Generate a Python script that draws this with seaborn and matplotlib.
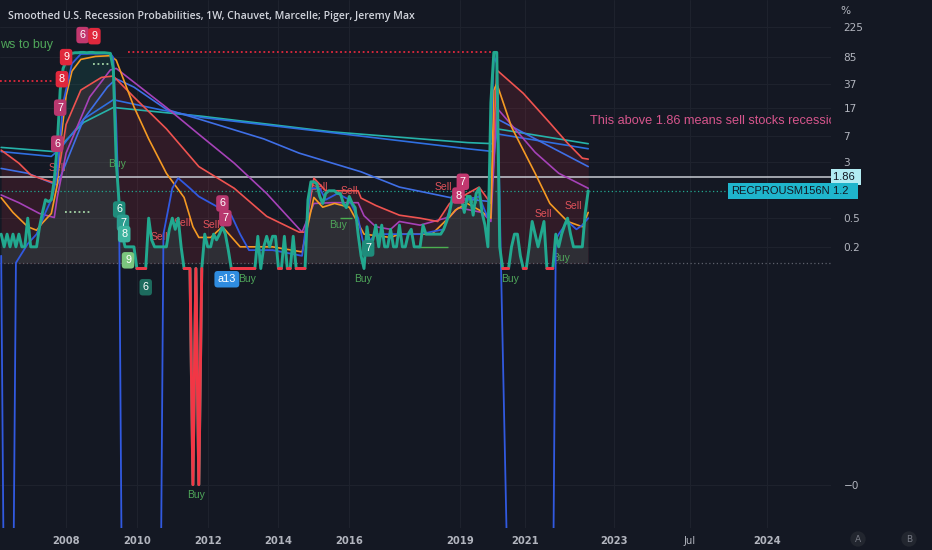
import numpy as np
import matplotlib
matplotlib.use("Agg")
import matplotlib.pyplot as plt
import matplotlib.transforms as mtransforms
import seaborn as sns

# x axis = bar index (monthly bars, 0 = Jan 2008), y = probability in % (log scale)
rec_start = -22
rec = [0.3, 0.2, 0.3, 0.2, 0.3, 0.2, 0.3, 0.2, 0.2, 0.5,
       0.2, 0.2, 0.2, 0.38, 0.6, 0.9, 0.85, 0.9, 1.7, 5,
       30, 60, 75, 92, 97, 99, 99, 100, 100, 99,
       100, 100, 99, 99, 99, 99, 98, 97, 60, 3,
       0.8, 0.3, 0.2, 0.2, 0.2, 0.2, 0.1, 0.1, 0.1, 0.1,
       0.5, 0.25, 0.2, 0.2, 0.2, 0.2, 0.2, 0.35, 0.5, 0.35,
       0.5, 0.2, 0.1, 0.1, 0.1, 0.0001, 0.1, 0.0001, 0.1, 0.3,
       0.2, 0.2, 0.3, 0.25, 0.3, 0.38, 0.3, 0.18, 0.1, 0.1,
       0.1, 0.1, 0.1, 0.1, 0.1, 0.1, 0.1, 0.28, 0.1, 0.2,
       0.28, 0.2, 0.28, 0.28, 0.1, 0.1, 0.28, 0.1, 0.1, 0.28,
       0.1, 0.1, 0.1, 0.1, 0.9, 1.6, 1.6, 1.5, 1.0, 0.8,
       1.1, 1.2, 1.2, 1.2, 1.1, 1.1, 0.8, 0.7, 1.0, 0.8,
       0.7, 0.3, 0.15, 0.1, 0.38, 0.2, 0.25, 0.4, 0.2, 0.4,
       0.2, 0.2, 0.35, 0.2, 0.2, 0.4, 0.2, 0.2, 0.3, 0.35,
       0.2, 0.2, 0.2, 0.4, 0.3, 0.3, 0.3, 0.3, 0.3, 0.3,
       0.35, 0.45, 0.6, 1.0, 0.85, 0.9, 0.95, 0.6, 1.0, 1.0,
       0.55, 1.1, 1.3, 0.6, 0.4, 0.2, 20, 100, 100, 0.2,
       0.1, 0.1, 0.1, 0.2, 0.3, 0.3, 0.15, 0.1, 0.1, 0.2,
       0.45, 0.3, 0.2, 0.3, 0.45, 0.1, 0.1, 0.1, 0.3, 0.2,
       0.3, 0.4, 0.5, 0.3, 0.2, 0.2, 0.2, 0.2, 0.6, 1.2]

orange_x = [-22, -18, -13, -10, -8, -5, -3, -2, 0, 2, 5, 10, 15, 17, 23, 28, 34, 40, 43, 45,
            49, 53, 59, 70, 80, 84, 87, 91, 96, 101, 110, 113, 124, 130, 132, 136, 140, 144, 145, 146,
            151, 159, 164, 170, 175, 177]
orange_y = [0.96, 0.6, 0.38, 0.34, 0.43, 0.58, 1.45, 5, 25, 55, 80, 88, 90, 78, 17.6, 6.3, 2.1, 0.97, 0.38, 0.27,
            0.27, 0.38, 0.2, 0.2, 0.17, 0.97, 0.71, 0.8, 0.71, 0.3, 0.27, 0.3, 0.3, 0.52, 0.65, 0.8, 0.65, 0.5, 30, 37,
            9.2, 2.1, 0.8, 0.45, 0.38, 0.6]

red_x = [-22, -16, -12, -9, -4, -2, 0, 5, 12, 16, 23, 34, 45, 57, 68, 79, 81, 84, 88, 99,
         100, 105, 113, 120, 126, 130, 140, 144, 146, 155, 164, 170, 175, 177]
red_y = [4.4, 2.9, 2.0, 1.8, 1.55, 3, 10, 30, 45, 47, 24, 8.7, 2.6, 1.3, 0.53, 0.32, 0.32, 1.8, 1.2, 1.2,
         0.95, 0.75, 0.55, 0.5, 0.45, 0.8, 1.35, 0.8, 57, 27, 10.5, 5.5, 3.4, 3.3]

purple_x = [-22, -16, -9, -4, -3, 0, 8, 15, 17, 34, 45, 57, 68, 80, 84, 90, 99, 101, 105, 110,
            113, 120, 130, 133, 141, 144, 146, 159, 167, 177]
purple_y = [1.05, 0.82, 0.58, 0.51, 0.97, 4, 24, 57, 60, 17.2, 7.3, 2.9, 1.1, 0.32, 0.8, 0.82, 0.82, 0.54, 0.38, 0.35,
            0.45, 0.4, 0.52, 0.7, 0.6, 0.45, 17, 4.1, 2.1, 1.3]

mblue_x = [-22, -13, -5, -3, 6, 14, 17, 23, 34, 45, 67, 79, 100, 113, 130, 144, 146, 177]
mblue_y = [2.45, 2.1, 1.55, 1.45, 11.9, 33, 43, 33, 16.2, 11.9, 6.3, 4.0, 2.2, 1.35, 0.97, 0.85, 12, 2.6]

blue2_x = [-22, -5, -2, 6, 16, 32, 46, 90, 136, 145, 146, 177]
blue2_y = [4.2, 3.6, 4.6, 11.9, 22, 16, 12.5, 7.7, 4.6, 4.2, 7.4, 4.6]

cyan_x = [-22, -4, -2, 6, 16, 46, 90, 136, 145, 146, 177]
cyan_y = [4.8, 4.2, 5.0, 10.7, 17.2, 13, 7.9, 5.6, 5.4, 8.7, 5.4]

fblue_x = [-22, -21, -18, -17, -13, -10, -7, -5, -3, -1, 2, 5, 15, 16, 17, 18, 19, 32, 33, 36,
           38, 42, 45, 51, 56, 59, 62, 70, 80, 83, 86, 88, 92, 96, 99, 101, 105, 110, 120, 128,
           131, 136, 140, 143, 145, 146, 150, 165, 166, 167, 170, 173, 175, 177]
fblue_y = [0.15, 1e-6, 1e-6, 0.12, 0.22, 0.3, 0.6, 0.9, 2, 20, 70, 95, 97, 85, 10, 0.5, 1e-6, 1e-6, 0.3, 1.3,
           1.8, 1.3, 1.0, 0.73, 0.55, 0.3, 0.18, 0.18, 0.15, 1.3, 1.3, 0.9, 1.1, 0.9, 0.5, 0.2, 0.3, 0.3, 0.3, 0.35,
           0.9, 0.9, 1.0, 0.5, 90, 71, 1e-6, 1e-6, 0.25, 0.3, 0.45, 0.35, 0.4, 0.5]

floor_level = 0.118
sell_level = 1.86
last_value = 1.2

ytick_vals = [225, 85, 37, 17, 7, 3, 0.5, 0.2, 1e-4]
ytick_labels = ["225", "85", "37", "17", "7", "3", "0.5", "0.2", "\u22120"]
xtick_pos = [0, 24, 48, 72, 96, 133.5, 155.6, 185.8, 211.5, 237.6]
xtick_labels = ["2008", "2010", "2012", "2014", "2016", "2019", "2021", "2023", "Jul", "2024"]

sells = [(-3, 2.47), (31.5, 0.27), (39.3, 0.43), (49.3, 0.4), (86, 1.35), (96, 1.18),
         (128, 1.35), (161.7, 0.58), (171.9, 0.74)]
buys = [(17.3, 2.8), (92.2, 0.4), (44, 7.1e-5), (61.5, 0.071), (100.7, 0.071), (150.5, 0.071),
        (167.8, 0.14), (137, 0.9)]
count_boxes = [(0, 86, "9", "#E0283C"), (-1.4, 42.5, "8", "#E0283C"), (-2, 17.1, "7", "#B8386F"),
               (-3, 5.4, "6", "#B8386F"), (5.6, 174, "6", "#C2386F"), (9.6, 168, "9", "#E0283C"),
               (18, 0.66, "6", "#1F8C7B"), (19.3, 0.43, "7", "#2A9D8F"), (19.7, 0.3, "8", "#3CB39E"),
               (21, 0.13, "9", "#7BC67E"), (27, 0.055, "6", "#1D6B5E"), (53, 0.8, "6", "#B8386F"),
               (54, 0.5, "7", "#B8386F"), (102.4, 0.19, "7", "#1F8C7B"), (133, 1.03, "8", "#C2386F"),
               (134.5, 1.6, "7", "#C2386F"), (54.5, 0.071, "a13", "#2F8CE0")]

BG = "#141823"
TEAL = "#22A88F"
GRID = "#1E222D"
TXT = "#B2B5BE"

sns.set_style("dark", rc={"axes.facecolor": BG, "figure.facecolor": BG})
plt.rcParams["font.family"] = ["DejaVu Sans"]

fig = plt.figure(figsize=(9.32, 5.5), dpi=100)
ax = fig.add_axes([0, 22 / 550, 831 / 932, 528 / 550])
ax.set_facecolor(BG)
ax.set_yscale("log")
ax.set_ylim(2.5e-5, 534)
ax.set_xlim(-22.4, 259.3)

rec_x = np.arange(rec_start, rec_start + len(rec))
rec_arr = np.array(rec)

# fills
ax.fill_between(red_x, red_y, floor_level, color="#F23645", alpha=0.13, lw=0, zorder=1)
ax.fill_between(rec_x, rec_arr, floor_level, where=rec_arr > floor_level, interpolate=True,
                color=TEAL, alpha=0.14, lw=0, zorder=1)

# reference lines
ax.axhline(sell_level, color="#C8CBD3", lw=1.1, zorder=2)
ax.axhline(last_value, color=TEAL, lw=0.9, ls=(0, (1, 2)), zorder=2)
ax.axhline(floor_level, color="#5D606B", lw=0.9, ls=(0, (1, 2)), zorder=2)
ax.hlines(101, 21, 144.7, color="#E0283C", lw=1.3, ls=(0, (1, 1.5)), zorder=2)
ax.hlines(40, -22.4, -4, color="#E0283C", lw=1.3, ls=(0, (1, 1.5)), zorder=2)
ax.hlines(68, 9.2, 15.4, color="#A5D6A7", lw=1.3, ls=(0, (1, 1.5)), zorder=2)
ax.hlines(0.6, -0.3, 8.1, color="#A5D6A7", lw=1.3, ls=(0, (1, 1.5)), zorder=2)
ax.hlines(0.51, 93, 97, color="#4CAF50", lw=1, zorder=2)
ax.hlines(0.2, 119, 129.5, color="#4CAF50", lw=1, zorder=2)

# sell / buy text under the lines
for sx, sy in sells:
    ax.text(sx, sy, "Sell", color="#E0525A", fontsize=7.5, ha="center", va="center",
            family="Liberation Sans", zorder=3)
for bx, by in buys:
    ax.text(bx, by, "Buy", color="#4FA65A", fontsize=7.5, ha="center", va="center",
            family="Liberation Sans", zorder=3)

# moving average lines
sns.lineplot(x=cyan_x, y=cyan_y, color="#26B3AA", lw=1.2, ax=ax, zorder=4)
sns.lineplot(x=blue2_x, y=blue2_y, color="#2F6FE0", lw=1.2, ax=ax, zorder=4)
sns.lineplot(x=mblue_x, y=mblue_y, color="#3F6FE6", lw=1.2, ax=ax, zorder=4)
sns.lineplot(x=purple_x, y=purple_y, color="#A642B8", lw=1.2, ax=ax, zorder=4)
sns.lineplot(x=red_x, y=red_y, color="#EF5350", lw=1.2, ax=ax, zorder=4)
sns.lineplot(x=orange_x, y=orange_y, color="#F59A23", lw=1.2, ax=ax, zorder=4)
sns.lineplot(x=fblue_x, y=fblue_y, color="#3159E0", lw=1.3, ax=ax, zorder=5)

# main series, red where it sits at the floor
sns.lineplot(x=rec_x, y=rec_arr, color=TEAL, lw=2.1, ax=ax, zorder=6)
red_part = np.where(rec_arr <= 0.105, rec_arr, np.nan)
ax.plot(rec_x, red_part, color="#F23645", lw=2.1, zorder=7)

# count labels
for cx, cy, t, c in count_boxes:
    ax.text(cx, cy, t, color="white", fontsize=7.8, ha="center", va="center", family="Liberation Sans",
            bbox=dict(boxstyle="round,pad=0.3", fc=c, ec="none"), zorder=8)

ax.text(-22.4, 126, "ws to buy", color="#4FA65A", fontsize=9, ha="left", va="center",
        family="Liberation Sans", zorder=8)
ax.text(177.6, 11.1, "This above 1.86 means sell stocks recession", color="#D6558C", fontsize=9.2,
        ha="left", va="center", family="Liberation Sans", clip_on=True, zorder=8)

# axes styling
for s in ax.spines.values():
    s.set_visible(False)
ax.set_xlabel("")
ax.set_ylabel("")
ax.yaxis.tick_right()
ax.set_yticks(ytick_vals)
ax.set_yticklabels(ytick_labels)
ax.yaxis.set_minor_locator(matplotlib.ticker.NullLocator())
ax.set_xticks(xtick_pos)
ax.set_xticklabels(xtick_labels)
ax.tick_params(axis="y", length=0, pad=9, labelsize=7.6, colors=TXT)
ax.tick_params(axis="x", length=0, pad=6, labelsize=7.2, colors=TXT)
for lab in ax.get_xticklabels():
    if lab.get_text() != "Jul":
        lab.set_fontweight("bold")
ax.grid(True, color=GRID, lw=0.8)

# price scale tags
trans = mtransforms.blended_transform_factory(ax.transAxes, ax.transData)
ax.text(1.003, sell_level, "1.86 ", transform=trans, color="#131722", fontsize=8, ha="left", va="center",
        family="Liberation Sans", bbox=dict(boxstyle="square,pad=0.25", fc="#B2EBF2", ec="none"), zorder=9)
ax.text(1.003, last_value, "1.2  ", transform=trans, color="#131722", fontsize=8, ha="left", va="center",
        family="Liberation Sans", bbox=dict(boxstyle="square,pad=0.25", fc="#1FB5CC", ec="none"), zorder=9)
ax.text(0.998, last_value, "RECPROUSM156N", transform=trans, color="#131722", fontsize=8, ha="right",
        va="center", family="Liberation Sans",
        bbox=dict(boxstyle="square,pad=0.25", fc="#1FB5CC", ec="none"), zorder=9)

fig.text(8 / 932, 1 - 17 / 550, "Smoothed U.S. Recession Probabilities, 1W, Chauvet, Marcelle; Piger, Jeremy Max",
         color="#D1D4DC", fontsize=7.6, ha="left", va="center", family="Open Sans", fontweight="semibold")
fig.text(840 / 932, 1 - 11 / 550, "%", color=TXT, fontsize=7.6, ha="left", va="center")
for px, t in [(858, "A"), (909, "B")]:
    fig.text(px / 932, 1 - 539 / 550, t, color="#787B86", fontsize=6.5, ha="center", va="center",
             bbox=dict(boxstyle="circle,pad=0.35", fc="#22262F", ec="none"))

fig.savefig("out.png", dpi=100, facecolor=BG)
